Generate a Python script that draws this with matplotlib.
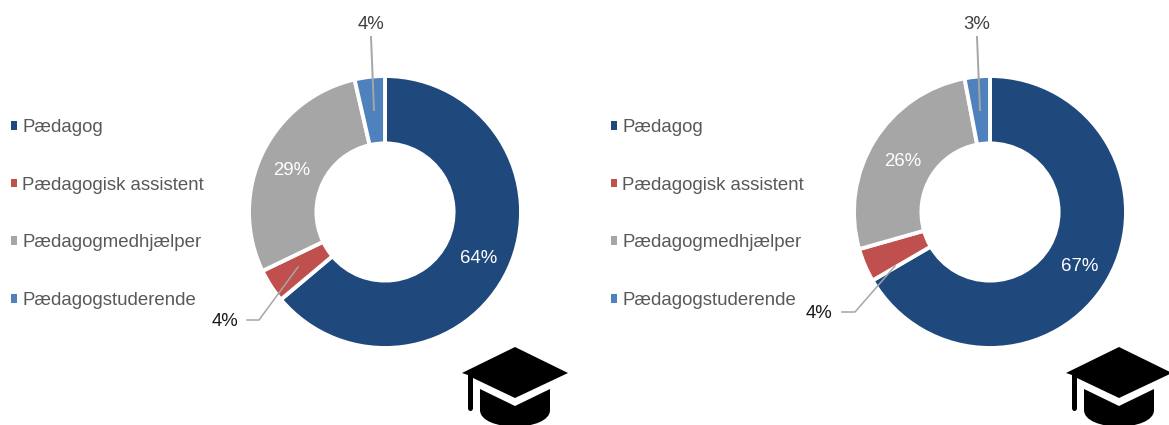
import numpy as np
import matplotlib
matplotlib.use("Agg")
import matplotlib.pyplot as plt
from matplotlib.path import Path
from matplotlib.patches import PathPatch, Patch

plt.rcParams['font.family'] = ['Liberation Sans', 'DejaVu Sans']

categories = ["Pædagog", "Pædagogisk assistent", "Pædagogmedhjælper", "Pædagogstuderende"]
left_values = [64, 4, 28.6, 3.6]
right_values = [66.6, 4, 26.4, 3]
colors = ["#1F497D", "#C0504D", "#A6A6A6", "#4F81BD"]

W, H = 1169, 425
fig = plt.figure(figsize=(W / 100, H / 100), dpi=100)
ax = fig.add_axes([0, 0, 1, 1])
ax.set_xlim(0, W)
ax.set_ylim(H, 0)
ax.axis("off")
FS = 13.4


def donut(cx, cy, values, legend_x, small_pos, small_line, top_pos, top_line):
    a = fig.add_axes([(cx - 140) / W, 1 - (cy + 140) / H, 280 / W, 280 / H])
    wedges, _ = a.pie(values, colors=colors, startangle=90, counterclock=False,
                      radius=136, center=(0, 0), frame=True,
                      wedgeprops=dict(width=67.4, edgecolor="white", linewidth=2.8))
    a.set_xlim(-140, 140)
    a.set_ylim(-140, 140)
    a.set_aspect("equal")
    a.axis("off")
    for i in (0, 2):
        mid = np.deg2rad((wedges[i].theta1 + wedges[i].theta2) / 2)
        a.text(103 * np.cos(mid), 103 * np.sin(mid) - 3.2, f"{round(values[i])}%",
               color="white", fontsize=FS, ha="center", va="center")
    # leader lines and outer labels
    a2 = fig.add_axes([0, 0, 1, 1], zorder=5)
    a2.set_xlim(0, W)
    a2.set_ylim(H, 0)
    a2.axis("off")
    a2.plot(*zip(*small_line), color="#A6A6A6", lw=1.1)
    a2.plot(*zip(*top_line), color="#A6A6A6", lw=1.4)
    a2.text(*small_pos, f"{round(values[1])}%", color="#1a1a1a", fontsize=FS, ha="center", va="center")
    a2.text(*top_pos, f"{round(values[3])}%", color="#404040", fontsize=FS, ha="center", va="center")
    handles = [Patch(facecolor=c, edgecolor="none") for c in colors]
    fig.legend(handles, categories, loc="center left",
               bbox_to_anchor=(legend_x / W, 1 - 214 / H), frameon=False, fontsize=FS,
               labelcolor="#595959", handlelength=0.34, handleheight=0.34,
               handletextpad=0.26, labelspacing=2.19, borderpad=0, borderaxespad=0)


def cap(dx):
    V, L, C, Z = Path.MOVETO, Path.LINETO, Path.CURVE4, Path.CLOSEPOLY
    shapes = [
        ([(462, 373), (515, 347), (568, 373), (515, 398), (473, 378), (473, 408), (473, 412),
          (468, 412), (468, 408), (468, 375), (462, 373)],
         [V, L, L, L, L, L, C, C, C, L, Z]),
        ([(480, 389), (515, 406), (550, 389), (550, 410), (550, 432), (480, 432), (480, 410), (480, 389)],
         [V, L, L, L, C, C, C, Z]),
    ]
    for pts, codes in shapes:
        ax.add_patch(PathPatch(Path([(x + dx, y) for x, y in pts], codes), fc="black", ec="none", zorder=6))


donut(385, 212, left_values, 11,
      (225, 321), [(247, 320), (259, 320), (298, 267)],
      (371, 24), [(371, 37), (374, 110)])
donut(990, 212, right_values, 611,
      (819, 313), [(842, 312), (855, 312), (895, 266)],
      (977, 24), [(977, 37), (980, 110)])
cap(0)
cap(604)
ax.set_zorder(10)
fig.savefig("out.png", dpi=100)
